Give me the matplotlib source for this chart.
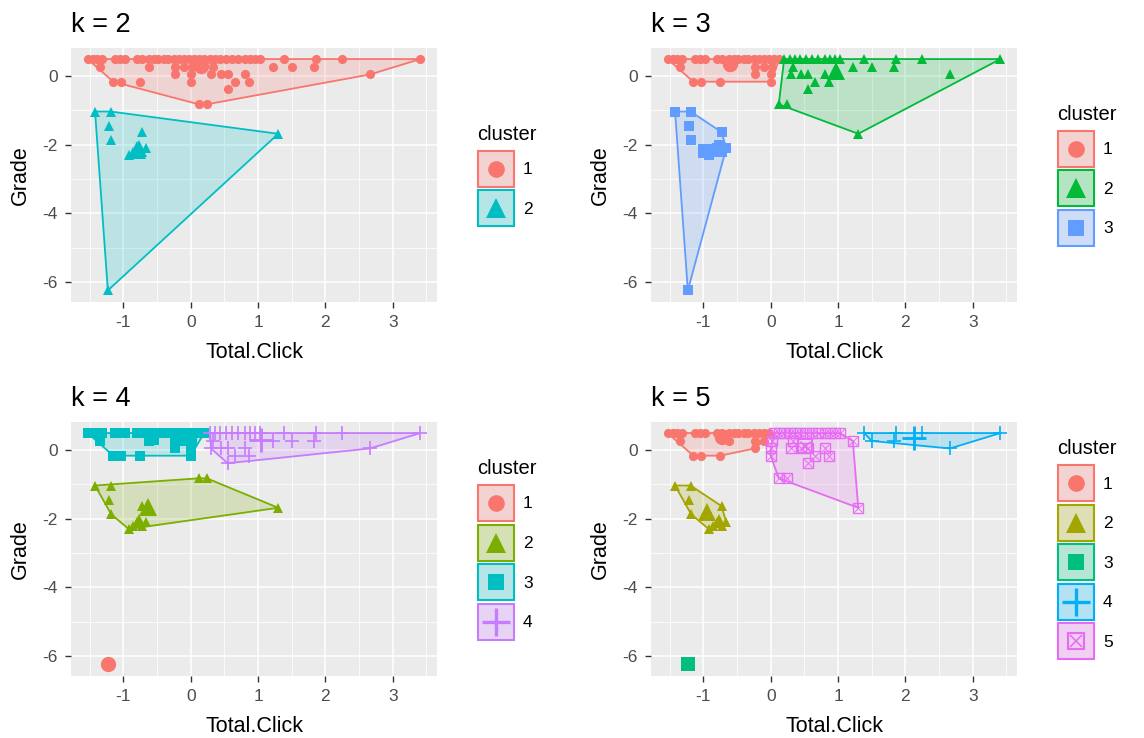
import numpy as np
import matplotlib
matplotlib.use("Agg")
import matplotlib.pyplot as plt
from matplotlib.patches import Rectangle, Polygon
from matplotlib.colors import to_rgb

plt.rcParams['font.family'] = ['Liberation Sans', 'DejaVu Sans']
plt.rcParams['axes.unicode_minus'] = False

# Standardised Total.Click and Grade for every student
total_click = [
    # students at the grade ceiling
    -1.53, -1.45, -1.39, -1.32, -1.12, -1.05, -0.98, -0.80, -0.72, -0.62,
    -0.55, -0.48, -0.40, -0.33, -0.25, -0.18, -0.10, -0.03, 0.05, 0.13,
    0.20, 0.29, 0.36, 0.44, 0.52, 0.62, 0.70, 0.80, 0.88, 0.95,
    1.03, 1.39, 1.86, 2.25, 3.41,
    # just below the ceiling
    -1.34, -0.62, -0.24, -0.10, 0.02, 0.33, 1.22, 1.50, 1.83,
    -0.24, 0.00, 0.30, 0.45, 0.56, 0.80, 2.66,
    -1.15, -1.04, -0.75, 0.00, 0.66, 0.87,
    0.55, 0.12, 0.24,
    # low-grade group
    -1.42, -1.19, -1.21, -1.18, -0.73, -0.92, -0.86, -0.80, -0.76, -0.72, -0.66,
    1.30, -1.23,
]
grade = [
    0.50, 0.50, 0.50, 0.50, 0.50, 0.50, 0.50, 0.50, 0.50, 0.50,
    0.50, 0.50, 0.50, 0.50, 0.50, 0.50, 0.50, 0.50, 0.50, 0.50,
    0.50, 0.50, 0.50, 0.50, 0.50, 0.50, 0.50, 0.50, 0.50, 0.50,
    0.50, 0.50, 0.50, 0.50, 0.50,
    0.27, 0.27, 0.27, 0.27, 0.27, 0.27, 0.27, 0.27, 0.27,
    0.05, 0.05, 0.05, 0.05, 0.05, 0.05, 0.05,
    -0.16, -0.16, -0.16, -0.16, -0.16, -0.16,
    -0.38, -0.82, -0.82,
    -1.03, -1.03, -1.45, -1.87, -1.63, -2.30, -2.22, -2.10, -2.00, -2.22, -2.10,
    -1.68, -6.25,
]

# k-means cluster assignments for k = 2..5
cluster_k2 = [
    1, 1, 1, 1, 1, 1, 1, 1, 1, 1, 1, 1, 1, 1, 1, 1, 1, 1, 1, 1,
    1, 1, 1, 1, 1, 1, 1, 1, 1, 1, 1, 1, 1, 1, 1,
    1, 1, 1, 1, 1, 1, 1, 1, 1,
    1, 1, 1, 1, 1, 1, 1,
    1, 1, 1, 1, 1, 1,
    1, 1, 1,
    2, 2, 2, 2, 2, 2, 2, 2, 2, 2, 2,
    2, 2,
]
cluster_k3 = [
    1, 1, 1, 1, 1, 1, 1, 1, 1, 1, 1, 1, 1, 1, 1, 1, 1, 1, 1, 1,
    2, 2, 2, 2, 2, 2, 2, 2, 2, 2, 2, 2, 2, 2, 2,
    1, 1, 1, 1, 1, 2, 2, 2, 2,
    1, 1, 2, 2, 2, 2, 2,
    1, 1, 1, 1, 2, 2,
    2, 2, 2,
    3, 3, 3, 3, 3, 3, 3, 3, 3, 3, 3,
    2, 3,
]
cluster_k4 = [
    3, 3, 3, 3, 3, 3, 3, 3, 3, 3, 3, 3, 3, 3, 3, 3, 3, 3, 3, 3,
    3, 4, 4, 4, 4, 4, 4, 4, 4, 4, 4, 4, 4, 4, 4,
    3, 3, 3, 3, 3, 4, 4, 4, 4,
    3, 3, 4, 4, 4, 4, 4,
    3, 3, 3, 3, 4, 4,
    4, 2, 2,
    2, 2, 2, 2, 2, 2, 2, 2, 2, 2, 2,
    2, 1,
]
cluster_k5 = [
    1, 1, 1, 1, 1, 1, 1, 1, 1, 1, 1, 1, 1, 1, 1, 1, 1, 1, 5, 5,
    5, 5, 5, 5, 5, 5, 5, 5, 5, 5, 5, 4, 4, 4, 4,
    1, 1, 1, 1, 5, 5, 5, 4, 4,
    1, 5, 5, 5, 5, 5, 4,
    1, 1, 1, 5, 5, 5,
    5, 5, 5,
    2, 2, 2, 2, 2, 2, 2, 2, 2, 2, 2,
    5, 3,
]

panel_titles = ["k = 2", "k = 3", "k = 4", "k = 5"]
x_ticks = [-1, 0, 1, 2, 3]
y_ticks = [0, -2, -4, -6]

palettes = {
    2: ['#F8766D', '#00BFC4'],
    3: ['#F8766D', '#00BA38', '#619CFF'],
    4: ['#F8766D', '#7CAE00', '#00BFC4', '#C77CFF'],
    5: ['#F8766D', '#A3A500', '#00BF7D', '#00B0F6', '#E76BF3'],
}
shapes = ['o', '^', 's', '+', 'sqx']
point_size = {'o': 6.6, '^': 7.6, 's': 6.6, '+': 10.0, 'sqx': 7.0}
center_size = {'o': 11.0, '^': 12.5, 's': 10.0, '+': 17.0, 'sqx': 10.0}
legend_size = {'o': 12.0, '^': 14.0, 's': 11.5, '+': 20.0, 'sqx': 11.0}

W, H = 1144, 738
PW, PH = 366, 254.5
fig = plt.figure(figsize=(W / 100, H / 100), dpi=100)
fig.patch.set_facecolor('white')


def px_axes(x0, y0, w, h):
    return fig.add_axes([x0 / W, 1 - (y0 + h) / H, w / W, h / H])


def convex_hull(points):
    pts = sorted(set(points))
    if len(pts) < 3:
        return pts

    def cross(o, a, b):
        return (a[0] - o[0]) * (b[1] - o[1]) - (a[1] - o[1]) * (b[0] - o[0])

    lower, upper = [], []
    for p in pts:
        while len(lower) >= 2 and cross(lower[-2], lower[-1], p) <= 0:
            lower.pop()
        lower.append(p)
    for p in reversed(pts):
        while len(upper) >= 2 and cross(upper[-2], upper[-1], p) <= 0:
            upper.pop()
        upper.append(p)
    return lower[:-1] + upper[:-1]


def draw_points(ax, xs, ys, shape, color, size, z):
    if shape == 'sqx':
        ax.plot(xs, ys, ls='none', marker='s', ms=size, mfc='none', mec=color,
                mew=size * 0.14, zorder=z)
        ax.plot(xs, ys, ls='none', marker='x', ms=size * 0.75, mec=color,
                mew=size * 0.1, zorder=z)
    elif shape == '+':
        ax.plot(xs, ys, ls='none', marker='+', ms=size, mec=color,
                mew=size * 0.12, zorder=z)
    else:
        ax.plot(xs, ys, ls='none', marker=shape, ms=size, mfc=color, mec=color,
                mew=0, zorder=z)


x = np.array(total_click)
y = np.array(grade)
xr = x.max() - x.min()
yr = y.max() - y.min()
xlim = (x.min() - 0.05 * xr, x.max() + 0.05 * xr)
ylim = (y.min() - 0.05 * yr, y.max() + 0.05 * yr)

panels = [
    (2, cluster_k2, 71, 47.5),
    (3, cluster_k3, 651, 47.5),
    (4, cluster_k4, 71, 421.5),
    (5, cluster_k5, 651, 421.5),
]

overlay = fig.add_axes([0, 0, 1, 1], zorder=10)
overlay.set_xlim(0, W)
overlay.set_ylim(H, 0)
overlay.axis('off')

grey95 = np.array(to_rgb('#F2F2F2'))

for (k, labels, x0, y0), title in zip(panels, panel_titles):
    ax = px_axes(x0, y0, PW, PH)
    ax.set_facecolor('#EBEBEB')
    for s in ax.spines.values():
        s.set_visible(False)
    ax.set_xlim(*xlim)
    ax.set_ylim(*ylim)
    ax.set_xticks(x_ticks)
    ax.set_yticks(y_ticks)
    ax.set_xticks([-1.5, -0.5, 0.5, 1.5, 2.5, 3.5], minor=True)
    ax.set_yticks([-1, -3, -5], minor=True)
    ax.grid(which='major', color='white', lw=1.15)
    ax.grid(which='minor', color='white', lw=0.55)
    ax.set_axisbelow(True)
    ax.tick_params(which='major', length=4.3, width=1.0, color='#333333',
                   labelsize=12.5, labelcolor='#4D4D4D', pad=5)
    ax.tick_params(which='minor', length=0)

    lab = np.array(labels)
    cols = palettes[k]
    for c in range(1, k + 1):
        m = lab == c
        xs, ys = x[m], y[m]
        col = cols[c - 1]
        shp = shapes[c - 1]
        hull = convex_hull(list(zip(xs.tolist(), ys.tolist())))
        if len(hull) >= 3:
            ax.add_patch(Polygon(hull, closed=True, fc=col, alpha=0.2,
                                 ec='none', zorder=2))
            ax.add_patch(Polygon(hull, closed=True, fc='none', ec=col,
                                 lw=1.3, zorder=3, joinstyle='round'))
        draw_points(ax, xs, ys, shp, col, point_size[shp], 4)
        draw_points(ax, [xs.mean()], [ys.mean()], shp, col, center_size[shp], 5)

    # titles and axis titles
    overlay.text(x0, y0 - 15, title, fontsize=19.5, ha='left', va='baseline',
                 color='black')
    overlay.text(x0 + PW / 2, y0 + PH + 56, "Total.Click", fontsize=15.5,
                 ha='center', va='baseline', color='black')
    overlay.text(x0 - 51, y0 + PH / 2, "Grade", fontsize=15.5, rotation=90,
                 ha='center', va='center', color='black')

    # legend
    pitch, key = 39.5, 37.5
    lx = x0 + PW + 40
    pc = y0 + PH / 2
    keys_top = pc - k * pitch / 2 + 14.5
    overlay.text(lx, keys_top - 10, "cluster", fontsize=14.5, ha='left',
                 va='baseline', color='black')
    for i in range(k):
        col = cols[i]
        shp = shapes[i]
        top = keys_top + i * pitch
        fc = 0.25 * np.array(to_rgb(col)) + 0.75 * grey95
        overlay.add_patch(Rectangle((lx + 0.75, top + 0.75), key - 1.5, key - 1.5,
                                    fc=fc, ec=col, lw=1.5))
        draw_points(overlay, [lx + key / 2], [top + key / 2], shp, col,
                    legend_size[shp], 12)
        overlay.text(lx + 46, top + key / 2 + 1, str(i + 1), fontsize=12.5,
                     ha='left', va='center', color='black')

fig.savefig("out.png", dpi=100)
